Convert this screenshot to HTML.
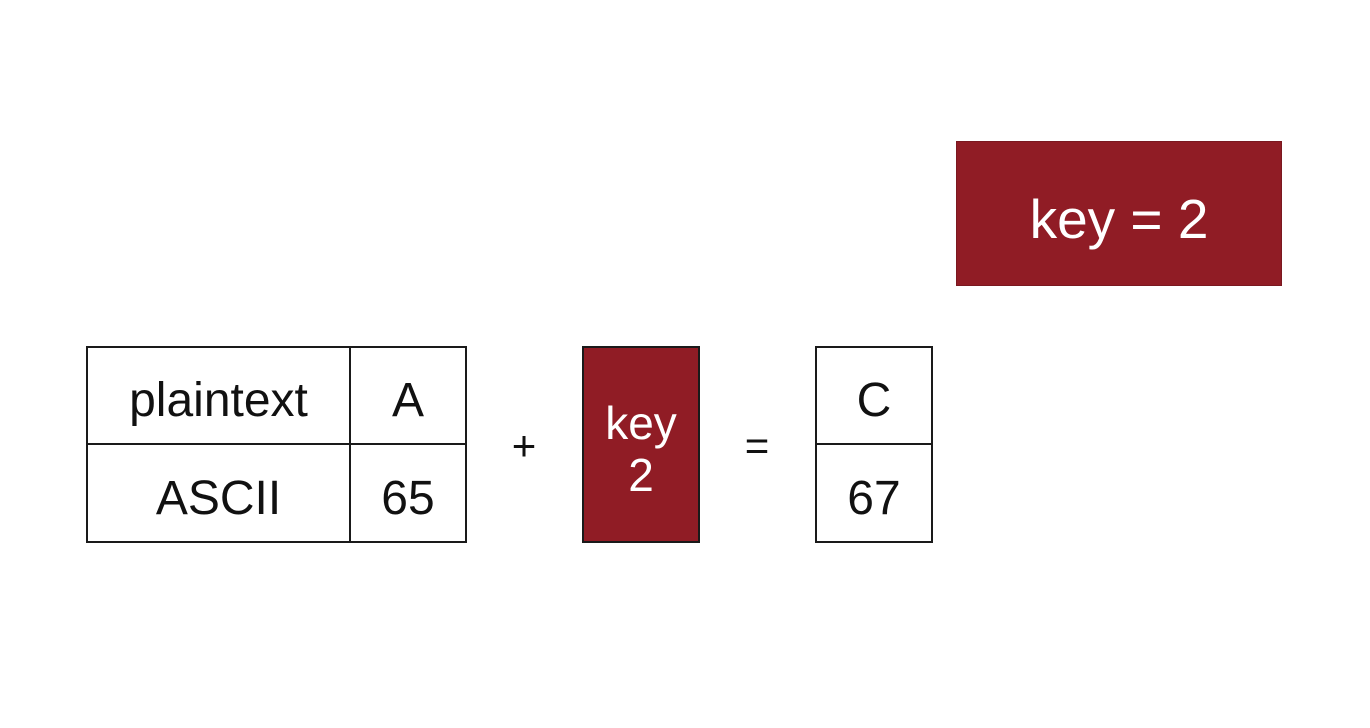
<!DOCTYPE html>
<html>
<head>
<meta charset="utf-8">
<style>
  html,body{margin:0;padding:0;background:#fff;}
  body{width:1370px;height:728px;position:relative;overflow:hidden;font-family:"Liberation Sans",Arial,sans-serif;color:#111;}
  .abs{position:absolute;box-sizing:border-box;}
  .cell{position:absolute;box-sizing:border-box;display:flex;align-items:center;justify-content:center;font-size:48px;padding-top:10px;}
  .red{background:#901c25;color:#fff;}
</style>
</head>
<body>
  <div class="abs red" style="left:956px;top:141px;width:326px;height:145px;display:flex;align-items:center;justify-content:center;font-size:55px;padding-top:10px;border:1px solid #7a1820;">key = 2</div>

  <div class="abs" style="left:86px;top:346px;width:381px;height:197px;border:2px solid #1a1a1a;">
    <div class="cell" style="left:0;top:0;width:263px;height:97px;border-right:2px solid #1a1a1a;border-bottom:2px solid #1a1a1a;">plaintext</div>
    <div class="cell" style="left:263px;top:0;width:114px;height:97px;border-bottom:2px solid #1a1a1a;">A</div>
    <div class="cell" style="left:0;top:97px;width:263px;height:96px;border-right:2px solid #1a1a1a;">ASCII</div>
    <div class="cell" style="left:263px;top:97px;width:114px;height:96px;">65</div>
  </div>

  <div class="cell" style="left:504px;top:414px;width:40px;height:54px;font-size:42px;">+</div>

  <div class="abs red" style="left:582px;top:346px;width:118px;height:197px;border:2px solid #1a1a1a;font-size:46px;text-align:center;">
    <div style="position:absolute;left:0;right:0;top:50px;line-height:50px;">key</div>
    <div style="position:absolute;left:0;right:0;top:102px;line-height:50px;">2</div>
  </div>

  <div class="cell" style="left:737px;top:414px;width:40px;height:54px;font-size:42px;">=</div>

  <div class="abs" style="left:815px;top:346px;width:118px;height:197px;border:2px solid #1a1a1a;">
    <div class="cell" style="left:0;top:0;width:114px;height:97px;border-bottom:2px solid #1a1a1a;">C</div>
    <div class="cell" style="left:0;top:97px;width:114px;height:96px;">67</div>
  </div>
</body>
</html>
